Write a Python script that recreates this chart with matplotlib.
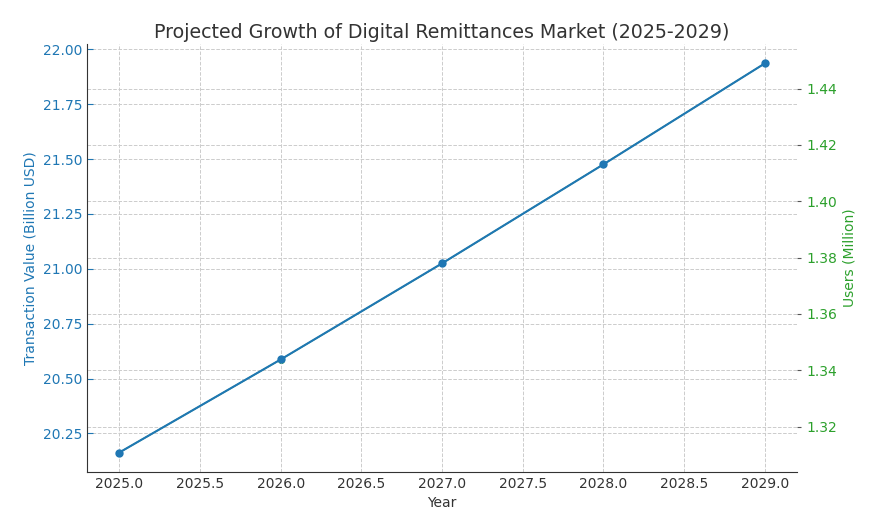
import matplotlib
matplotlib.use("Agg")
import matplotlib.pyplot as plt

# data
years = [2025, 2026, 2027, 2028, 2029]
transaction_value = [20.163, 20.587, 21.025, 21.476, 21.936]   # billion USD
users = [1.3108, 1.3438, 1.3779, 1.4131, 1.4489]                # million

BLUE = "#1f77b4"
GREEN = "#2ca02c"
DARK = "#333333"

fig = plt.figure(figsize=(8.75, 5.19), dpi=100)
ax1 = fig.add_axes([87 / 875, 1 - 472 / 519, (797 - 87) / 875, (472 - 44) / 519])
ax2 = ax1.twinx()

# green series lies exactly under the blue one, thinner so it doesn't tint it
ax2.plot(years, users, color=GREEN, marker="o", markersize=4, lw=1.0)
ax1.plot(years, transaction_value, color=BLUE, marker="o", markersize=5, lw=1.5)
ax1.set_zorder(ax2.get_zorder() + 1)
ax1.patch.set_visible(False)

for ax in (ax1, ax2):
    ax.grid(True, linestyle="--", color="#cccccc", lw=0.7)
    for s in ("top", "right"):
        ax.spines[s].set_visible(False)
ax2.spines["left"].set_visible(False)
ax2.spines["bottom"].set_visible(False)
for s in ("left", "bottom"):
    ax1.spines[s].set_color(DARK)

ax1.set_xlabel("Year", color=DARK, fontsize=10)
ax1.set_ylabel("Transaction Value (Billion USD)", color=BLUE, fontsize=10)
ax2.set_ylabel("Users (Million)", color=GREEN, fontsize=10)
ax1.tick_params(axis="y", colors=BLUE, labelsize=10, direction="in", length=4)
ax1.tick_params(axis="x", colors=DARK, labelsize=10, direction="in", length=0)
ax2.tick_params(axis="y", colors=GREEN, labelsize=10, length=3)
ax2.tick_params(axis="y", color="#555555")
ax1.yaxis.set_major_formatter(matplotlib.ticker.FormatStrFormatter("%.2f"))

ax1.set_title("Projected Growth of Digital Remittances Market (2025-2029)",
              fontsize=13.7, color=DARK, pad=4)

fig.savefig("out.png", dpi=100)
